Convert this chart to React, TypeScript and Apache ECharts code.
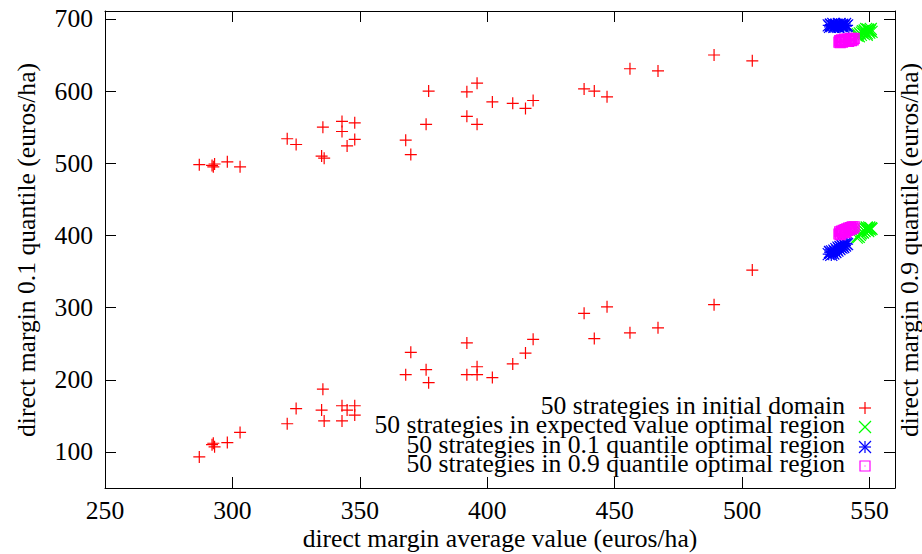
import React, { useEffect, useRef } from "react";
import * as echarts from "echarts";

// ---- tick labels ----
const xTicks = [250, 300, 350, 400, 450, 500, 550];
const yTicks = [100, 200, 300, 400, 500, 600, 700];

// ---- 50 strategies in initial domain (average, 0.1 quantile, 0.9 quantile) ----
const initialAvg = [287, 292, 293, 292.5, 298, 303, 321.5, 325, 335.5, 335, 336, 343, 343, 345, 348, 348, 368, 370, 376, 377, 392, 392, 396, 396, 402, 410, 415, 418, 438, 442, 447, 456, 467, 489, 504];
const initialQ01 = [93, 110, 107, 112, 113, 127, 139, 160, 187, 158, 143, 164, 143, 158, 164, 151, 207, 238, 214, 196, 251, 207, 218, 207, 203, 222, 237, 256, 292, 257, 301, 265, 272, 304, 352];
const initialQ09 = [498, 497, 499, 495, 502, 495, 534, 526, 550, 510, 507, 558, 544, 524, 556, 533, 532, 512, 554, 600, 599, 565, 611, 554, 585, 583, 576, 587, 603, 600, 592, 631, 628, 650, 642];

// ---- 50 strategies in expected value optimal region ----
const evAvg = [545.0, 545.4, 545.8, 546.2, 546.6, 547.0, 547.4, 547.8, 548.1, 548.4, 548.7, 549.0, 549.3, 549.6, 549.9, 550.2, 550.5, 550.8, 548.9, 549.5];
const evQ01 = [397, 399, 398, 401, 403, 405, 404, 407, 406, 409, 408, 410, 407, 409, 411, 408, 410, 409, 411, 406];
const evQ09 = [677, 679, 676, 680, 678, 681, 683, 679, 684, 682, 686, 680, 685, 683, 681, 684, 686, 682, 678, 685];

// ---- 50 strategies in 0.1 quantile optimal region ----
const q01Avg = [534.0, 534.5, 535.0, 535.3, 535.8, 536.2, 536.6, 537.0, 537.4, 537.8, 538.2, 538.6, 539.0, 539.3, 539.7, 540.0, 540.4, 540.8, 541.2, 534.8];
const q01Q01 = [374, 377, 373, 378, 375, 379, 377, 381, 379, 383, 381, 384, 383, 386, 384, 388, 386, 389, 388, 376];
const q01Q09 = [691, 689, 692, 690, 693, 689, 691, 692, 690, 689, 693, 691, 690, 692, 689, 691, 693, 690, 691, 692];

// ---- 50 strategies in 0.9 quantile optimal region ----
const q09Avg = [538.0, 538.3, 538.7, 539.0, 539.4, 539.7, 540.1, 540.4, 540.8, 541.1, 541.5, 541.8, 542.2, 542.5, 542.9, 543.2, 543.6, 544.0, 538.5, 540.6];
const q09Q01 = [402, 405, 403, 406, 404, 407, 405, 408, 406, 409, 407, 410, 408, 411, 409, 412, 410, 412, 401, 404];
const q09Q09 = [668, 670, 669, 671, 668, 670, 672, 669, 671, 670, 672, 669, 671, 673, 670, 672, 671, 673, 667, 669];

const seriesNames = [
  "50 strategies in initial domain",
  "50 strategies in expected value optimal region",
  "50 strategies in 0.1 quantile optimal region",
  "50 strategies in 0.9 quantile optimal region",
];
const colors = ["#ff0000", "#00ff00", "#0000ff", "#ff00ff"];

const xTitle = "direct margin average value (euros/ha)";
const yTitle = "direct margin 0.1 quantile (euros/ha)";
const y2Title = "direct margin 0.9 quantile (euros/ha)";

const FONT = "Liberation Serif";
const FS = 25.6;

const plusPath = "path://M0,6L12,6M6,0L6,12";
const crossPath = "path://M0,0L12,12M0,12L12,0";
const starPath = "path://M0,6L12,6M6,0L6,12M0,0L12,12M0,12L12,0";
const squarePath = "path://M0,0L10,0L10,10L0,10Z M4.6,4.6L5.4,4.6L5.4,5.4L4.6,5.4Z";
const symbols = [plusPath, crossPath, starPath, squarePath];
const symbolSizes = [12, 12, 12, 10];

function pairs(xs: number[], ys: number[]) {
  return xs.map((x, i) => [x, ys[i]]);
}

export default function App() {
  const ref = useRef<HTMLDivElement>(null);

  useEffect(() => {
    if (!ref.current) return;
    const chart = echarts.init(ref.current, null, { renderer: "svg" });

    const groups = [
      [initialAvg, initialQ01, initialQ09],
      [evAvg, evQ01, evQ09],
      [q01Avg, q01Q01, q01Q09],
      [q09Avg, q09Q01, q09Q09],
    ];

    const series: any[] = [];
    groups.forEach((g, k) => {
      const common = {
        type: "scatter",
        name: seriesNames[k],
        symbol: symbols[k],
        symbolSize: symbolSizes[k],
        silent: true,
        xAxisIndex: 0,
        z: 2 + k,
        itemStyle: {
          color: "rgba(0,0,0,0)",
          borderColor: colors[k],
          borderWidth: 1.2,
          opacity: 1,
        },
      };
      series.push({ ...common, yAxisIndex: 0, data: pairs(g[0], g[1]) });
      series.push({ ...common, yAxisIndex: 1, data: pairs(g[0], g[2]) });
    });

    const axisLine = { show: true, onZero: false, lineStyle: { color: "#000", width: 1 } };
    const labelStyle = { fontFamily: FONT, fontSize: FS, color: "#000" };

    const legendRows = [408, 427, 447, 466];
    const legendTextX = 845;
    const symX = 865;
    const txt = (extra: any) => ({ fontFamily: FONT, fontSize: FS, fill: "#000", ...extra });
    const graphic: any[] = [
      {
        type: "text",
        x: 500,
        y: 538,
        style: txt({ text: xTitle, align: "center", verticalAlign: "middle", textAlign: "center", textVerticalAlign: "middle" }),
      },
      {
        type: "text",
        x: 26,
        y: 250,
        rotation: Math.PI / 2,
        style: txt({ text: yTitle, align: "center", verticalAlign: "middle", textAlign: "center", textVerticalAlign: "middle" }),
      },
      {
        type: "text",
        x: 909,
        y: 250,
        rotation: Math.PI / 2,
        style: txt({ text: y2Title, align: "center", verticalAlign: "middle", textAlign: "center", textVerticalAlign: "middle" }),
      },
    ];
    seriesNames.forEach((n, k) => {
      graphic.push({
        type: "text",
        x: legendTextX,
        y: legendRows[k] - 3,
        style: txt({ text: n, lineHeight: 19, align: "right", verticalAlign: "middle", textAlign: "right", textVerticalAlign: "middle" }),
      });
    });
    const ls = (c: string) => ({ stroke: c, lineWidth: 1.2, fill: "none" });
    const h = 6;
    // plus
    graphic.push({ type: "line", shape: { x1: symX - h, y1: legendRows[0], x2: symX + h, y2: legendRows[0] }, style: ls(colors[0]) });
    graphic.push({ type: "line", shape: { x1: symX, y1: legendRows[0] - h, x2: symX, y2: legendRows[0] + h }, style: ls(colors[0]) });
    // cross
    graphic.push({ type: "line", shape: { x1: symX - h, y1: legendRows[1] - h, x2: symX + h, y2: legendRows[1] + h }, style: ls(colors[1]) });
    graphic.push({ type: "line", shape: { x1: symX - h, y1: legendRows[1] + h, x2: symX + h, y2: legendRows[1] - h }, style: ls(colors[1]) });
    // star
    graphic.push({ type: "line", shape: { x1: symX - h, y1: legendRows[2], x2: symX + h, y2: legendRows[2] }, style: ls(colors[2]) });
    graphic.push({ type: "line", shape: { x1: symX, y1: legendRows[2] - h, x2: symX, y2: legendRows[2] + h }, style: ls(colors[2]) });
    graphic.push({ type: "line", shape: { x1: symX - h, y1: legendRows[2] - h, x2: symX + h, y2: legendRows[2] + h }, style: ls(colors[2]) });
    graphic.push({ type: "line", shape: { x1: symX - h, y1: legendRows[2] + h, x2: symX + h, y2: legendRows[2] - h }, style: ls(colors[2]) });
    // square
    graphic.push({ type: "rect", shape: { x: symX - 5, y: legendRows[3] - 5, width: 10, height: 10 }, style: ls(colors[3]) });
    graphic.push({ type: "rect", shape: { x: symX - 0.5, y: legendRows[3] - 0.5, width: 1, height: 1 }, style: { fill: colors[3] } });

    chart.setOption({
      animation: false,
      backgroundColor: "#fff",
      grid: { left: 105, right: 27, top: 11, bottom: 66, containLabel: false },
      xAxis: [
        {
          type: "value",
          position: "bottom",
          min: 250,
          max: 560,
          axisLine,
          axisTick: { show: true, inside: true, length: 11, customValues: xTicks, lineStyle: { color: "#000" } },
          axisLabel: { show: true, margin: 9, customValues: xTicks, ...labelStyle },
          splitLine: { show: false },
        },
        {
          type: "value",
          position: "top",
          min: 250,
          max: 560,
          axisLine,
          axisTick: { show: true, inside: true, length: 11, customValues: xTicks, lineStyle: { color: "#000" } },
          axisLabel: { show: false },
          splitLine: { show: false },
        },
      ],
      yAxis: [
        {
          type: "value",
          position: "left",
          min: 50,
          max: 711,
          axisLine,
          axisTick: { show: true, inside: true, length: 11, customValues: yTicks, lineStyle: { color: "#000" } },
          axisLabel: { show: true, margin: 12, customValues: yTicks, ...labelStyle },
          splitLine: { show: false },
        },
        {
          type: "value",
          position: "right",
          min: 50,
          max: 711,
          axisLine,
          axisTick: { show: true, inside: true, length: 11, customValues: yTicks, lineStyle: { color: "#000" } },
          axisLabel: { show: false },
          splitLine: { show: false },
        },
      ],
      graphic,
      series,
    });

    return () => chart.dispose();
  }, []);

  return (
    <div
      ref={ref}
      style={{ position: "absolute", left: 0, top: 0, width: 922, height: 554, background: "#fff" }}
    />
  );
}
